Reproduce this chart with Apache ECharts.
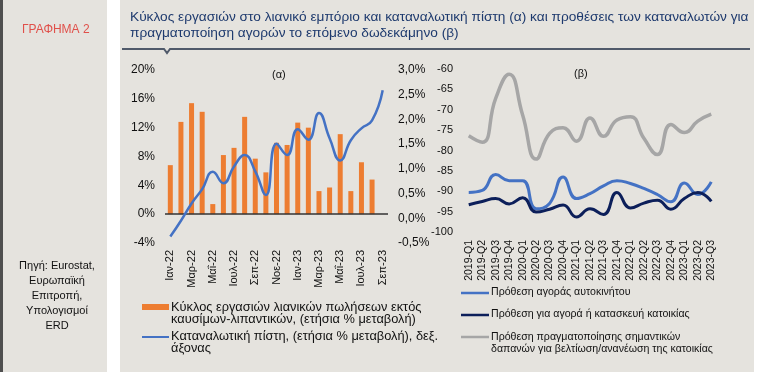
<!DOCTYPE html>
<html>
<head>
<meta charset="utf-8">
<script src="https://cdn.jsdelivr.net/npm/echarts@6/dist/echarts.min.js"></script>
<style>
html,body{margin:0;padding:0;background:#ffffff;}
#c{width:761px;height:372px;}
</style>
</head>
<body>
<div id="c"></div>
<script>
// ---- Data ----
var months = ['Ιαν-22','Φεβ-22','Μαρ-22','Απρ-22','Μαΐ-22','Ιουν-22','Ιουλ-22','Αυγ-22','Σεπ-22','Οκτ-22','Νοε-22','Δεκ-22',
              'Ιαν-23','Φεβ-23','Μαρ-23','Απρ-23','Μαΐ-23','Ιουν-23','Ιουλ-23','Αυγ-23','Σεπ-23'];
var retailTurnover = [6.8,12.8,15.4,14.2,1.4,8.2,9.2,13.5,7.7,5.8,9.9,9.6,12.7,12.0,3.2,3.7,11.1,3.2,7.2,4.8,null];
var consumerCredit = [-0.37,-0.05,0.30,0.59,0.94,0.71,1.05,1.28,0.95,0.47,1.51,1.28,1.80,1.59,2.13,1.62,1.17,1.58,1.82,1.98,2.59];

var quarters = ['2019-Q1','2019-Q2','2019-Q3','2019-Q4','2020-Q1','2020-Q2','2020-Q3','2020-Q4','2021-Q1','2021-Q2','2021-Q3','2021-Q4',
                '2022-Q1','2022-Q2','2022-Q3','2022-Q4','2023-Q1','2023-Q2','2023-Q3'];
var carPurchase = [-90.3,-89.8,-85.9,-87.4,-87.4,-94.3,-93.0,-86.5,-91.8,-90.6,-88.7,-87.4,-88.1,-89.3,-90.8,-92.6,-88.0,-90.8,-87.7];
var homePurchase = [-93.3,-92.5,-91.8,-93.1,-91.6,-95.1,-94.4,-93.4,-96.3,-94.3,-95.7,-90.3,-94.1,-92.9,-92.2,-94.4,-91.8,-90.3,-92.5];
var homeImprove = [-76.4,-78.0,-67.2,-61.3,-71.3,-82.1,-75.8,-74.4,-77.7,-72.0,-76.5,-72.5,-71.7,-77.0,-81.0,-73.6,-75.6,-72.8,-71.1];

var leftTicks = {min:-4, max:20, interval:4};
var rightTicks = {min:-0.5, max:3.0, interval:0.5};
var betaTicks = {min:-100, max:-60, interval:5};

var titleLines = ['Κύκλος εργασιών στο λιανικό εμπόριο και καταναλωτική πίστη (α) και προθέσεις των καταναλωτών για',
                  'πραγματοποίηση αγορών το επόμενο δωδεκάμηνο (β)'];
var sourceText = 'Πηγή: Eurostat,\nΕυρωπαϊκή\nΕπιτροπή,\nΥπολογισμοί\nERD';

var FONT = '"Liberation Sans", Arial, sans-serif';
var C_ORANGE = '#ed7d31', C_BLUE = '#4472c4', C_NAVY = '#0c1f5a', C_GREY = '#a6a6a6';
var BG = '#e5e3de';

var chart = echarts.init(document.getElementById('c'));
chart.setOption({
  backgroundColor: '#ffffff',
  animation: false,
  textStyle: {fontFamily: FONT},
  graphic: [
    {type:'rect', z:-10, shape:{x:0,y:0,width:3,height:372}, style:{fill:'#4f4f4f'}},
    {type:'rect', z:-10, shape:{x:3,y:0,width:104,height:372}, style:{fill:BG}},
    {type:'rect', z:-10, shape:{x:120,y:0,width:634,height:372}, style:{fill:BG}},
    {type:'text', position:[22,24], style:{text:'ΓΡΑΦΗΜΑ 2', fill:'#e0504a', font:'12px '+FONT}},
    {type:'text', position:[130,10], style:{text:titleLines[0], fill:'#1e3a6e', font:'13.7px '+FONT}},
    {type:'text', position:[130,26], style:{text:titleLines[1], fill:'#1e3a6e', font:'13.7px '+FONT}},
    {type:'polyline', shape:{points:[[122,49],[164,49],[167,53],[170,49],[750,49]]}, style:{stroke:'#505a6a', lineWidth:2, fill:null}},
    {type:'text', position:[57,258], style:{text:sourceText, fill:'#111', font:'11px '+FONT, textAlign:'center', lineHeight:15}},
    {type:'text', position:[272,69], style:{text:'(α)', fill:'#111', font:'11px '+FONT}},
    {type:'text', position:[574,68], style:{text:'(β)', fill:'#111', font:'11px '+FONT}},
    // legend (a)
    {type:'rect', shape:{x:142,y:304,width:27,height:6}, style:{fill:C_ORANGE}},
    {type:'text', position:[171,301], style:{text:'Κύκλος εργασιών λιανικών πωλήσεων εκτός\nκαυσίμων-λιπαντικών, (ετήσια % μεταβολή)', fill:'#111', font:'12.8px '+FONT, lineHeight:12.5}},
    {type:'line', shape:{x1:142,y1:337,x2:169,y2:337}, style:{stroke:C_BLUE, lineWidth:2}},
    {type:'text', position:[171,330], style:{text:'Καταναλωτική πίστη, (ετήσια % μεταβολή), δεξ.\nάξονας', fill:'#111', font:'12.8px '+FONT, lineHeight:12.5}},
    // legend (b)
    {type:'line', shape:{x1:461,y1:293,x2:489,y2:293}, style:{stroke:C_BLUE, lineWidth:2.5}},
    {type:'text', position:[491,287], style:{text:'Πρόθεση αγοράς αυτοκινήτου', fill:'#111', font:'10.6px '+FONT}},
    {type:'line', shape:{x1:461,y1:315,x2:489,y2:315}, style:{stroke:C_NAVY, lineWidth:2.5}},
    {type:'text', position:[491,309], style:{text:'Πρόθεση για αγορά ή κατασκευή κατοικίας', fill:'#111', font:'10.6px '+FONT}},
    {type:'line', shape:{x1:461,y1:337,x2:489,y2:337}, style:{stroke:C_GREY, lineWidth:2.5}},
    {type:'text', position:[491,331], style:{text:'Πρόθεση πραγματοποίησης σημαντικών\nδαπανών για βελτίωση/ανανέωση της κατοικίας', fill:'#111', font:'10.6px '+FONT, lineHeight:12}}
  ],
  grid: [
    {left:165, width:223, top:70, height:173},
    {left:462, width:256, top:69, height:163}
  ],
  xAxis: [
    {type:'category', gridIndex:0, data:months, position:'bottom',
     axisLine:{show:false, onZero:false}, axisTick:{show:false},
     axisLabel:{interval:1, rotate:90, margin:7, color:'#111', fontSize:11, fontFamily:FONT}},
    {type:'category', gridIndex:1, data:quarters,
     axisLine:{show:false}, axisTick:{show:false},
     axisLabel:{interval:0, rotate:90, margin:8, color:'#111', fontSize:10.5, fontFamily:FONT}}
  ],
  yAxis: [
    {type:'value', gridIndex:0, min:leftTicks.min, max:leftTicks.max, interval:leftTicks.interval,
     splitLine:{show:false}, axisLine:{show:false}, axisTick:{show:false},
     axisLabel:{formatter:'{value}%', color:'#111', fontSize:12, margin:10, fontFamily:FONT}},
    {type:'value', gridIndex:0, position:'right', min:rightTicks.min, max:rightTicks.max, interval:rightTicks.interval,
     splitLine:{show:false}, axisLine:{show:false}, axisTick:{show:false},
     axisLabel:{formatter:function(v){return v.toFixed(1).replace('.',',')+'%';}, color:'#111', fontSize:12, margin:10, fontFamily:FONT}},
    {type:'value', gridIndex:1, min:betaTicks.min, max:betaTicks.max, interval:betaTicks.interval,
     splitLine:{show:false}, axisLine:{show:false}, axisTick:{show:false},
     axisLabel:{color:'#111', fontSize:11, margin:9, fontFamily:FONT}}
  ],
  series: [
    {name:'Κύκλος εργασιών λιανικών πωλήσεων εκτός καυσίμων-λιπαντικών, (ετήσια % μεταβολή)', type:'bar',
     xAxisIndex:0, yAxisIndex:0, data:retailTurnover, barWidth:5, itemStyle:{color:C_ORANGE},
     markLine:{silent:true, symbol:'none', label:{show:false}, lineStyle:{color:'#333', width:1.5, type:'solid'}, data:[{yAxis:0}]}},
    {name:'Καταναλωτική πίστη, (ετήσια % μεταβολή), δεξ. άξονας', type:'line',
     xAxisIndex:0, yAxisIndex:1, data:consumerCredit, smooth:0.5, symbol:'none', z:5,
     lineStyle:{color:C_BLUE, width:2.5}},
    {name:'Πρόθεση πραγματοποίησης σημαντικών δαπανών για βελτίωση/ανανέωση της κατοικίας', type:'line',
     xAxisIndex:1, yAxisIndex:2, data:homeImprove, smooth:0.5, symbol:'none', lineStyle:{color:C_GREY, width:3.5}},
    {name:'Πρόθεση αγοράς αυτοκινήτου', type:'line',
     xAxisIndex:1, yAxisIndex:2, data:carPurchase, smooth:0.5, symbol:'none', lineStyle:{color:C_BLUE, width:3}},
    {name:'Πρόθεση για αγορά ή κατασκευή κατοικίας', type:'line',
     xAxisIndex:1, yAxisIndex:2, data:homePurchase, smooth:0.5, symbol:'none', lineStyle:{color:C_NAVY, width:3}}
  ]
});
</script>
</body>
</html>
